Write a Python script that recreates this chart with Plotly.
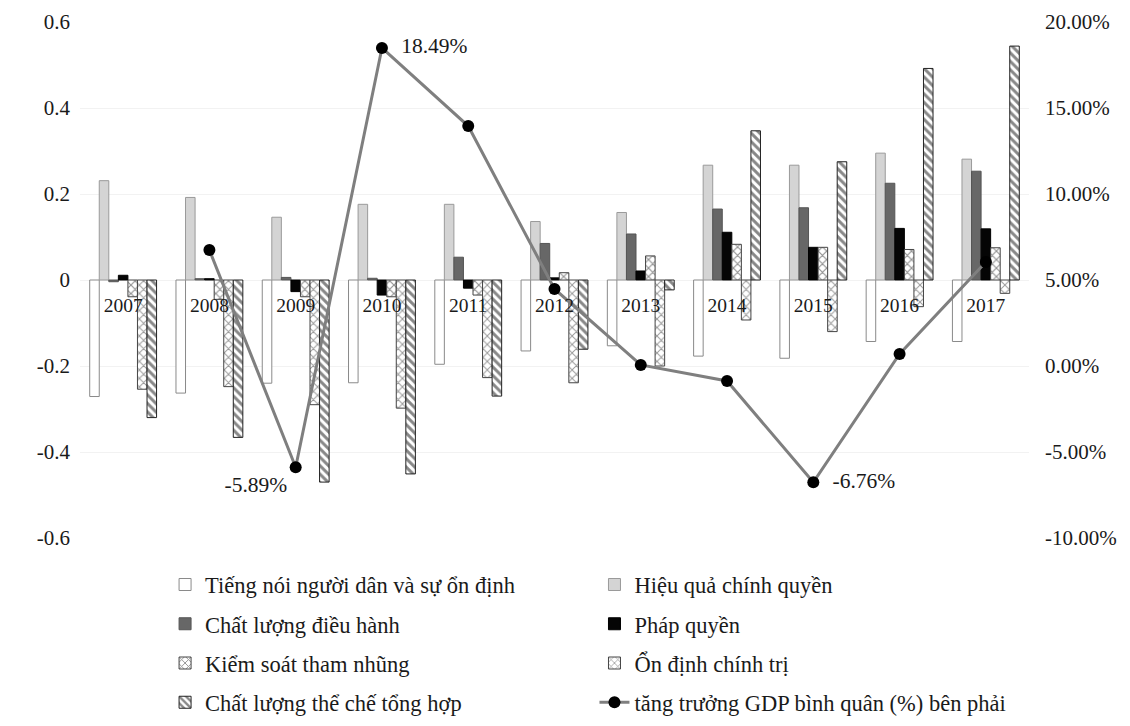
import plotly.graph_objects as go

years = ['2007', '2008', '2009', '2010', '2011', '2012', '2013', '2014', '2015', '2016', '2017']
tieng_noi = [-0.271, -0.263, -0.240, -0.239, -0.196, -0.165, -0.153, -0.177, -0.182, -0.143, -0.143]
hieu_qua = [0.231, 0.192, 0.146, 0.176, 0.176, 0.136, 0.157, 0.267, 0.267, 0.295, 0.281]
chat_luong_dh = [-0.004, 0.003, 0.006, 0.004, 0.053, 0.085, 0.107, 0.165, 0.168, 0.225, 0.253]
phap_quyen = [0.011, 0.003, -0.027, -0.035, -0.019, 0.005, 0.021, 0.111, 0.076, 0.120, 0.119]
kiem_soat = [-0.039, -0.045, -0.039, -0.039, -0.035, 0.017, 0.056, 0.083, 0.076, 0.071, 0.075]
on_dinh = [-0.254, -0.248, -0.290, -0.298, -0.227, -0.239, -0.200, -0.093, -0.120, -0.062, -0.031]
the_che = [-0.320, -0.366, -0.470, -0.451, -0.270, -0.161, -0.023, 0.347, 0.275, 0.492, 0.544]
gdp = [None, 0.0674, -0.0589, 0.1849, 0.1395, 0.0448, 0.0006, -0.0087, -0.0676, 0.0070, 0.0605]
gdp_labels = ['', '', '-5.89%', '\u00a0\u00a018.49%', '', '', '', '', '\u00a0\u00a0-6.76%', '', '']

left_ticks = [-0.6, -0.4, -0.2, 0, 0.2, 0.4, 0.6]
left_text = ['-0.6', '-0.4', '-0.2', '0', '0.2', '0.4', '0.6']
right_ticks = [-0.10, -0.05, 0.0, 0.05, 0.10, 0.15, 0.20]
right_text = ['-10.00%', '-5.00%', '0.00%', '5.00%', '10.00%', '15.00%', '20.00%']

names = ['Tiếng nói người dân và sự ổn định', 'Hiệu quả chính quyền', 'Chất lượng điều hành',
         'Pháp quyền', 'Kiểm soát tham nhũng', 'Ổn định chính trị', 'Chất lượng thể chế tổng hợp']
gdp_name = 'tăng trưởng GDP bình quân (%) bên phải'

FONT = 'Liberation Serif, Times New Roman, serif'
TXT = '#1a1a1a'

styles = [
    dict(color='white', line=dict(color='#8a8a8a', width=1)),
    dict(color='#d4d4d4', line=dict(color='#9a9a9a', width=1)),
    dict(color='#676767', line=dict(color='#555555', width=1)),
    dict(color='#050505', line=dict(color='#000000', width=1)),
    dict(color='white', line=dict(color='#444444', width=1),
         pattern=dict(shape='x', fgcolor='#222222', bgcolor='white', size=6, solidity=0.35)),
    dict(color='white', line=dict(color='#444444', width=1),
         pattern=dict(shape='x', fgcolor='#333333', bgcolor='white', size=6, solidity=0.3)),
    dict(color='white', line=dict(color='#222222', width=1),
         pattern=dict(shape='\\', fgcolor='#111111', bgcolor='white', size=6, solidity=0.5)),
]
series = [tieng_noi, hieu_qua, chat_luong_dh, phap_quyen, kiem_soat, on_dinh, the_che]
legend_of = ['legend', 'legend2', 'legend', 'legend2', 'legend', 'legend2', 'legend']

fig = go.Figure()
for i, (nm, vals, st) in enumerate(zip(names, series, styles)):
    fig.add_trace(go.Bar(x=years, y=vals, name=nm, marker=st, legend=legend_of[i],
                         legendgroup='g%d' % i, yaxis='y'))

fig.add_trace(go.Scatter(x=years, y=gdp, name=gdp_name, yaxis='y2', mode='lines+markers+text',
                         line=dict(color='#7f7f7f', width=3),
                         marker=dict(color='black', size=12),
                         text=gdp_labels,
                         textposition=['top center', 'top center', 'bottom left', 'middle right',
                                       'top center', 'top center', 'top center', 'top center',
                                       'middle right', 'top center', 'top center'],
                         textfont=dict(family=FONT, size=21.5, color=TXT),
                         legend='legend2', legendgroup='g7'))

leg_common = dict(font=dict(family=FONT, size=22.5, color=TXT), orientation='v',
                  bgcolor='rgba(0,0,0,0)', tracegroupgap=7, yanchor='top', xanchor='left',
                  xref='container', yref='container')

fig.update_layout(
    width=1130, height=726,
    margin=dict(l=72, r=109, t=14, b=196, autoexpand=False),
    paper_bgcolor='white', plot_bgcolor='white',
    barmode='group', bargap=0.225, bargroupgap=0,
    font=dict(family=FONT, size=19, color=TXT),
    xaxis=dict(anchor='free', position=0.5, showline=False, ticks='', showgrid=False,
               range=[-0.5, len(years) - 0.5], autorange=False,
               ticklabelstandoff=11, tickfont=dict(family=FONT, size=19.5, color=TXT)),
    yaxis=dict(range=[-0.6, 0.6], tickvals=left_ticks, ticktext=left_text, showgrid=True,
               gridcolor='#f2f2f2', zeroline=False, showline=False, ticks='',
               ticklabelstandoff=9, tickfont=dict(family=FONT, size=21, color=TXT)),
    yaxis2=dict(range=[-0.10, 0.20], tickvals=right_ticks, ticktext=right_text, overlaying='y',
                side='right', showgrid=False, zeroline=False, showline=False, ticks='',
                ticklabelstandoff=15, tickfont=dict(family=FONT, size=21, color=TXT)),
    legend=dict(x=0.139, y=0.235, **leg_common),
    legend2=dict(x=0.519, y=0.235, **leg_common),
    showlegend=True,
)

fig.write_html('out.html')
